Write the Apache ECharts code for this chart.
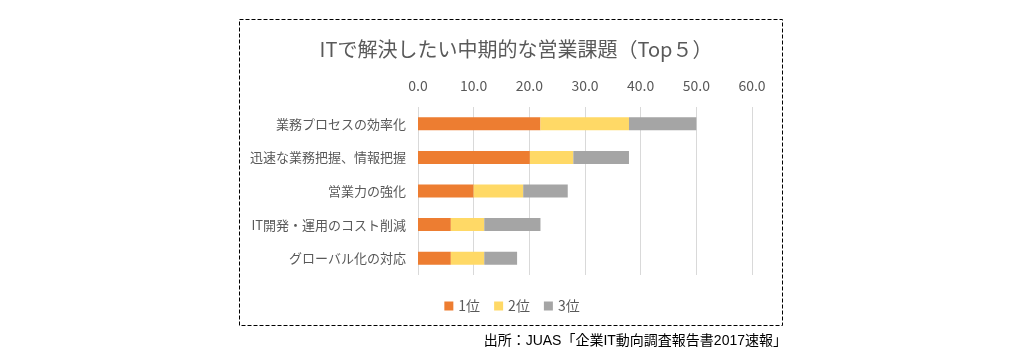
<!DOCTYPE html>
<html><head><meta charset="utf-8">
<script src="https://cdn.jsdelivr.net/npm/echarts@6/dist/echarts.min.js"></script>
<style>html,body{margin:0;padding:0;background:#fff}#c{width:1024px;height:360px}</style>
</head><body><div id="c"></div>
<script>
const categories = ['業務プロセスの効率化','迅速な業務把握、情報把握','営業力の強化','IT開発・運用のコスト削減','グローバル化の対応'];
const rank1 = [22.0, 20.1, 10.0, 5.9, 5.9];
const rank2 = [15.9, 7.8, 8.9, 6.0, 6.0];
const rank3 = [12.1, 10.0, 8.0, 10.1, 5.9];
const seriesNames = ['1位','2位','3位'];
const font = '"Noto Sans CJK JP","Noto Sans",sans-serif';
const chart = echarts.init(document.getElementById('c'));
chart.setOption({
  animation:false,
  title:{text:'ITで解決したい中期的な営業課題（Top５）',left:511,top:34,textAlign:'center',
    textStyle:{fontFamily:font,fontSize:20,fontWeight:'normal',color:'#595959'}},
  legend:{data:seriesNames,left:'center',top:294,itemWidth:9,itemHeight:9,itemGap:14,icon:'rect',
    textStyle:{fontFamily:font,fontSize:14,color:'#595959'}},
  grid:{left:418,right:272,top:107,bottom:85},
  xAxis:{type:'value',position:'top',min:0,max:60,interval:10,
    axisLabel:{formatter:v=>v.toFixed(1),fontFamily:font,fontSize:14,color:'#595959',margin:14},
    axisLine:{show:false},axisTick:{show:false},
    splitLine:{lineStyle:{color:'#d9d9d9',width:1}}},
  yAxis:{type:'category',data:categories,inverse:true,
    axisLine:{show:false},axisTick:{show:false},
    axisLabel:{fontFamily:font,fontSize:13,color:'#595959',margin:12}},
  series:[
    {name:seriesNames[0],type:'bar',stack:'a',data:rank1,barWidth:13,itemStyle:{color:'#ED7D31'}},
    {name:seriesNames[1],type:'bar',stack:'a',data:rank2,barWidth:13,itemStyle:{color:'#FFD966'}},
    {name:seriesNames[2],type:'bar',stack:'a',data:rank3,barWidth:13,itemStyle:{color:'#A5A5A5'}}
  ],
  graphic:[
    {type:'rect',shape:{x:239.5,y:19.5,width:543,height:306},
     style:{fill:'none',stroke:'#000',lineWidth:1,lineDash:[4,2]}},
    {type:'text',right:237,top:334,style:{text:'出所：JUAS「企業IT動向調査報告書2017速報」',
      font:'14px "Liberation Sans","Noto Sans CJK JP",sans-serif',fill:'#000'}}
  ]
});
</script></body></html>
